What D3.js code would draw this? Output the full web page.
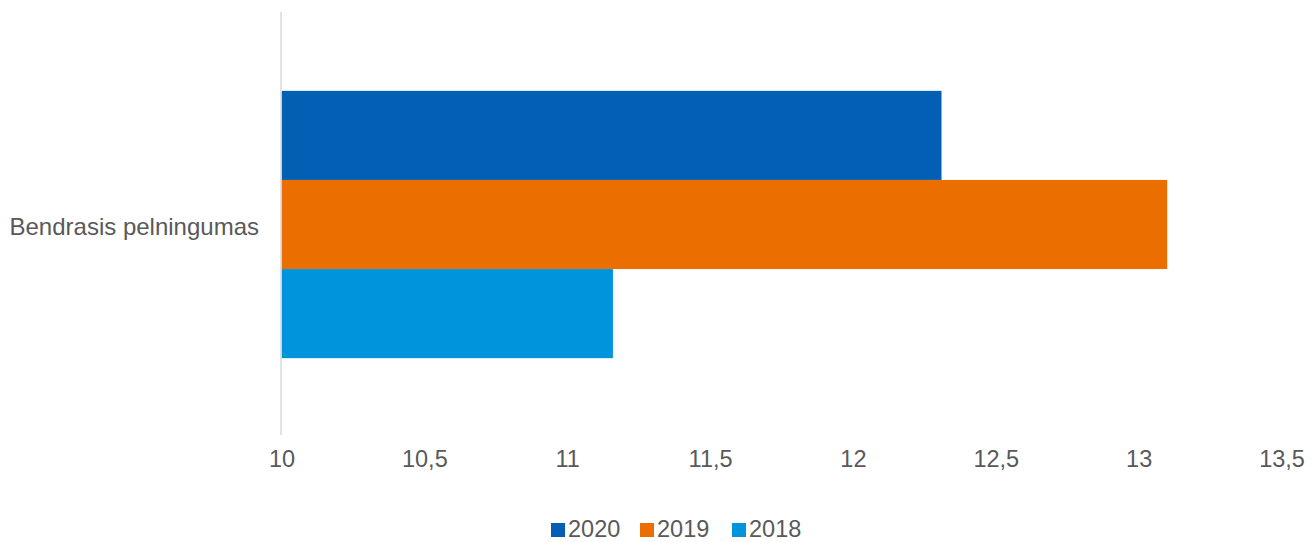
<!DOCTYPE html>
<html><head><meta charset="utf-8">
<script src="https://cdn.jsdelivr.net/npm/d3@7"></script>
<style>html,body{margin:0;padding:0;background:#fff;}svg{display:block;font-family:"Liberation Sans",Arial,sans-serif;}</style>
</head><body><svg id="c" width="1315" height="542"></svg>
<script>
const categories = ["Bendrasis pelningumas"];
const seriesNames = ["2020", "2019", "2018"];
const values2020 = [12.31];
const values2019 = [13.10];
const values2018 = [11.16];
const seriesValues = [values2020, values2019, values2018];
const colors = ["#035fb4", "#ea6f00", "#0094dc"];
const tickValues = [10, 10.5, 11, 11.5, 12, 12.5, 13, 13.5];

const svg = d3.select("#c");
const x = d3.scaleLinear().domain([10, 13.5]).range([281.5, 1281.5]);
const y = d3.scaleBand().domain(categories).range([12, 437]).paddingInner(0).paddingOuter(0.295);
const ySub = d3.scaleBand().domain(seriesNames).range([0, y.bandwidth()]);
const textColor = "#595959";

// bars
categories.forEach((cat, ci) => {
  seriesNames.forEach((s, si) => {
    svg.append("rect")
      .attr("x", x(10))
      .attr("y", y(cat) + ySub(s))
      .attr("width", x(seriesValues[si][ci]) - x(10))
      .attr("height", ySub.bandwidth())
      .attr("fill", colors[si]);
  });
});

// vertical axis line
svg.append("line").attr("x1", 281).attr("x2", 281).attr("y1", 12).attr("y2", 435)
  .attr("stroke", "#d9d9d9").attr("stroke-width", 1.5);

// category labels
const yAxis = svg.append("g").attr("transform", "translate(281,3)")
  .call(d3.axisLeft(y).tickSize(0).tickPadding(22));
yAxis.select(".domain").remove();
yAxis.selectAll("text").attr("fill", textColor).style("font-size", "24px")
  .style("font-family", "'Liberation Sans', Arial, sans-serif");

// x axis ticks
const xAxis = svg.append("g").attr("transform", "translate(0,450)")
  .call(d3.axisBottom(x).tickValues(tickValues).tickSize(0).tickPadding(0)
    .tickFormat(d => String(d).replace(".", ",")));
xAxis.select(".domain").remove();
xAxis.selectAll("text").attr("fill", textColor).attr("dy", "0.71em").attr("y", 0).style("font-size", "23.5px")
  .style("font-family", "'Liberation Sans', Arial, sans-serif");

// legend
const legendX = [551, 640, 732];
const legend = svg.append("g");
seriesNames.forEach((s, i) => {
  legend.append("rect").attr("x", legendX[i]).attr("y", 523).attr("width", 14).attr("height", 14).attr("fill", colors[i]);
  legend.append("text").attr("x", legendX[i] + 17).attr("y", 537).text(s)
    .attr("fill", textColor).style("font-size", "23.5px");
});
</script></body></html>
